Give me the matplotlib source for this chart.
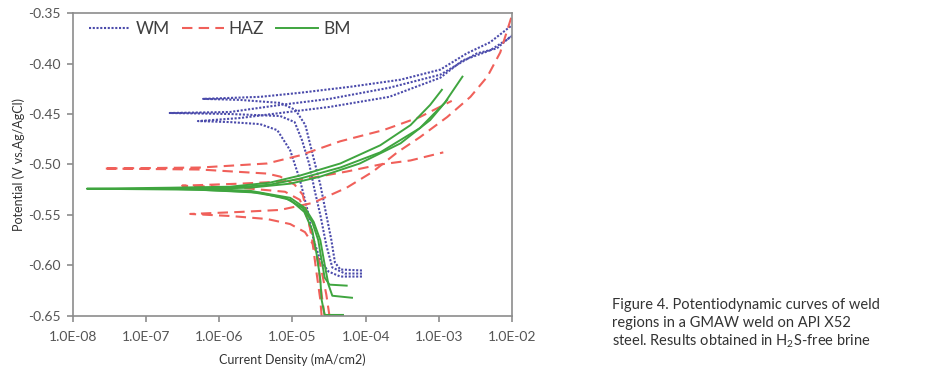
import matplotlib
matplotlib.use("Agg")
import matplotlib.pyplot as plt
from matplotlib.ticker import FixedLocator, FuncFormatter

plt.rcParams['font.family'] = ['Lato', 'DejaVu Sans']
plt.rcParams['mathtext.fontset'] = 'custom'
plt.rcParams['mathtext.rm'] = 'Lato'

# ---- data: current density (mA/cm2) and potential (V vs Ag/AgCl) ----
wm1_i = [8.9e-5, 4.5e-5, 3.8e-5, 3.4e-5, 2.9e-5, 2.4e-5, 1.9e-5, 1.5e-5, 1.1e-5, 6.8e-6, 1.9e-6, 6.0e-7,
         3.6e-6, 1.26e-5, 6.2e-5, 3.0e-4, 1.05e-3, 2.4e-3, 5.0e-3, 1.0e-2]
wm1_e = [-0.605, -0.604, -0.597, -0.575, -0.550, -0.520, -0.491, -0.461, -0.446, -0.439, -0.436, -0.435,
         -0.433, -0.429, -0.423, -0.416, -0.406, -0.390, -0.379, -0.362]
wm2_i = [8.9e-5, 5.2e-5, 3.5e-5, 2.9e-5, 2.4e-5, 2.0e-5, 1.7e-5, 1.35e-5, 1.07e-5, 6.8e-6, 1.4e-6, 2.1e-7,
         1.4e-6, 6.8e-6, 3.2e-5, 2.1e-4, 1.05e-3, 1.8e-3, 3.3e-3, 6.2e-3, 1.0e-2]
wm2_e = [-0.608, -0.608, -0.602, -0.580, -0.550, -0.525, -0.500, -0.476, -0.458, -0.452, -0.450, -0.449,
         -0.448, -0.441, -0.435, -0.424, -0.411, -0.401, -0.390, -0.385, -0.372]
wm3_i = [8.9e-5, 4.5e-5, 3.1e-5, 2.4e-5, 1.95e-5, 1.6e-5, 1.26e-5, 9.3e-6, 6.2e-6, 3.6e-6, 1.4e-6, 5.1e-7,
         1.9e-6, 6.8e-6, 3.2e-5, 2.1e-4, 1.05e-3, 2.1e-3, 5.0e-3, 1.0e-2]
wm3_e = [-0.611, -0.611, -0.606, -0.595, -0.575, -0.545, -0.515, -0.486, -0.466, -0.460, -0.458, -0.457,
         -0.454, -0.449, -0.443, -0.433, -0.414, -0.397, -0.387, -0.373]

haz1_i = [2.5e-5, 2.4e-5, 2.1e-5, 1.86e-5, 1.6e-5, 1.38e-5, 1.07e-5, 6.8e-6, 4.5e-6, 5.5e-7, 2.6e-8,
          5.5e-7, 4.5e-6, 1.26e-5, 4.5e-5, 1.74e-4, 5.5e-4, 1.5e-3]
haz1_e = [-0.650, -0.634, -0.604, -0.575, -0.550, -0.530, -0.520, -0.512, -0.509, -0.505, -0.504,
          -0.503, -0.499, -0.491, -0.477, -0.466, -0.453, -0.437]
haz2_i = [2.75e-5, 2.5e-5, 2.25e-5, 1.95e-5, 1.6e-5, 1.26e-5, 7.9e-6, 1.9e-6, 3.1e-7,
          1.9e-6, 6.8e-6, 1.9e-5, 5.5e-5, 1.58e-4, 4.1e-4, 1.15e-3]
haz2_e = [-0.650, -0.629, -0.599, -0.575, -0.553, -0.535, -0.527, -0.523, -0.521,
          -0.519, -0.517, -0.513, -0.507, -0.500, -0.496, -0.488]
haz3_i = [3.2e-5, 2.9e-5, 2.4e-5, 1.95e-5, 1.48e-5, 9.3e-6, 4.5e-6, 1.4e-6, 4.0e-7,
          1.9e-6, 6.8e-6, 1.9e-5, 5.5e-5, 1.26e-4, 2.7e-4, 5.5e-4, 1.3e-3, 2.7e-3, 4.6e-3, 6.9e-3, 1.0e-2]
haz3_e = [-0.650, -0.629, -0.599, -0.580, -0.567, -0.559, -0.554, -0.551, -0.549,
          -0.547, -0.545, -0.538, -0.523, -0.507, -0.488, -0.473, -0.453, -0.433, -0.413, -0.389, -0.352]

bm1_i = [4.9e-5, 2.75e-5, 2.5e-5, 2.4e-5, 2.15e-5, 1.86e-5, 1.45e-5, 9.3e-6, 3.6e-6, 5.5e-7, 1.55e-8,
         2.1e-7, 1.4e-6, 4.9e-6, 1.26e-5, 4.5e-5, 1.58e-4, 4.1e-4, 7.6e-4, 1.1e-3]
bm1_e = [-0.649, -0.649, -0.634, -0.614, -0.590, -0.565, -0.547, -0.535, -0.528, -0.525, -0.524,
         -0.523, -0.522, -0.518, -0.511, -0.499, -0.481, -0.461, -0.441, -0.426]
bm2_i = [5.5e-5, 3.2e-5, 2.75e-5, 2.5e-5, 2.25e-5, 1.86e-5, 1.38e-5, 7.9e-6, 2.6e-6, 2.1e-7,
         1.4e-6, 4.9e-6, 1.26e-5, 4.5e-5, 1.58e-4, 5.5e-4, 1.2e-3, 2.1e-3]
bm2_e = [-0.620, -0.619, -0.612, -0.595, -0.575, -0.557, -0.543, -0.533, -0.527, -0.524,
         -0.523, -0.520, -0.514, -0.503, -0.488, -0.464, -0.439, -0.413]
bm3_i = [6.5e-5, 3.5e-5, 3.1e-5, 2.75e-5, 2.4e-5, 1.95e-5, 1.48e-5, 9.3e-6, 2.6e-6, 5.5e-7,
         2.6e-6, 9.3e-6, 2.4e-5, 8.3e-5, 3.0e-4, 7.6e-4, 1.3e-3]
bm3_e = [-0.632, -0.630, -0.619, -0.599, -0.575, -0.557, -0.543, -0.533, -0.526, -0.524,
         -0.523, -0.519, -0.512, -0.499, -0.479, -0.456, -0.436]

x_ticks = [1e-8, 1e-7, 1e-6, 1e-5, 1e-4, 1e-3, 1e-2]
x_tick_labels = ["1.0E-08", "1.0E-07", "1.0E-06", "1.0E-05", "1.0E-04", "1.0E-03", "1.0E-02"]
y_ticks = [-0.65, -0.60, -0.55, -0.50, -0.45, -0.40, -0.35]

caption_lines = ["Figure 4. Potentiodynamic curves of weld",
                 "regions in a GMAW weld on API X52",
                 "steel. Results obtained in H$_2$S-free brine"]

# ---- drawing ----
fig = plt.figure(figsize=(9.39, 3.73), dpi=100)
ax = fig.add_axes([0.0777, 0.153, 0.4676, 0.812])

blue = '#4b4bab'
red = '#f0605a'
green = '#3fa53f'

wm_style = dict(color=blue, lw=1.5, linestyle=(0, (1, 0.8)))
haz_style = dict(color=red, lw=1.5, linestyle=(0, (5, 3)))
bm_style = dict(color=green, lw=1.4, linestyle='-')

ax.plot(wm1_i, wm1_e, label='WM', **wm_style)
ax.plot(wm2_i, wm2_e, **wm_style)
ax.plot(wm3_i, wm3_e, **wm_style)
ax.plot(haz1_i, haz1_e, label='HAZ', **haz_style)
ax.plot(haz2_i, haz2_e, **haz_style)
ax.plot(haz3_i, haz3_e, **haz_style)
ax.plot(bm1_i, bm1_e, label='BM', **bm_style)
ax.plot(bm2_i, bm2_e, **bm_style)
ax.plot(bm3_i, bm3_e, **bm_style)

ax.set_xscale('log')
ax.set_xlim(1e-8, 1e-2)
ax.set_ylim(-0.65, -0.35)
ax.xaxis.set_major_locator(FixedLocator(x_ticks))
ax.xaxis.set_minor_locator(FixedLocator([]))
ax.set_xticklabels(x_tick_labels)
ax.set_yticks(y_ticks)
ax.yaxis.set_major_formatter(FuncFormatter(lambda v, p: f"{v:.2f}"))

for s in ax.spines.values():
    s.set_color('#8c8c8c')
    s.set_linewidth(1.2)
ax.tick_params(axis='both', colors='#8c8c8c', labelcolor='#555555', labelsize=10, length=4, width=1.2)
ax.tick_params(axis='x', pad=7)
ax.tick_params(axis='y', pad=5)

ax.set_xlabel('Current Density (mA/cm2)', fontsize=9, color='#333333')
ax.set_ylabel('Potential (V vs.Ag/AgCl)', fontsize=9, color='#333333')
ax.xaxis.set_label_coords(0.5, -0.125)
ax.yaxis.set_label_coords(-0.11, 0.5)

leg = ax.legend(loc='upper left', ncol=3, frameon=False, fontsize=12.5, handlelength=2.4,
                handletextpad=0.3, columnspacing=0.7, bbox_to_anchor=(0.0, 1.025),
                labelcolor='#404040')

for k, line in enumerate(caption_lines):
    fig.text(0.652, 1 - (305 + 18 * k) / 373, line, fontsize=10.5, color='#333333',
             va='center', ha='left')

fig.savefig('out.png', dpi=100)
